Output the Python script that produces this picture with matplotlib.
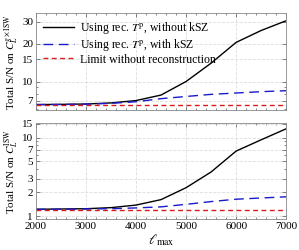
import numpy as np
import matplotlib
matplotlib.use('Agg')
import matplotlib.pyplot as plt
from matplotlib.ticker import FixedLocator, MultipleLocator, NullFormatter, LogLocator

plt.rcParams['font.family'] = 'Liberation Serif'
plt.rcParams['mathtext.fontset'] = 'stix'
plt.rcParams['font.size'] = 8

# Data
lmax = [2000, 2500, 3000, 3500, 4000, 4500, 5000, 5500, 6000, 6500, 7000]

# top panel: S/N on C_L^{g x ISW}
gx_no_ksz = [6.55, 6.58, 6.62, 6.75, 7.05, 7.8, 10.0, 14.0, 20.5, 25.5, 30.5]
gx_ksz = [6.55, 6.56, 6.6, 6.7, 6.9, 7.3, 7.6, 7.9, 8.1, 8.3, 8.45]
gx_limit = [6.5] * len(lmax)

# bottom panel: S/N on C_L^{ISW}
isw_no_ksz = [1.22, 1.23, 1.24, 1.28, 1.38, 1.62, 2.3, 3.65, 6.75, 9.4, 13.0]
isw_ksz = [1.22, 1.22, 1.23, 1.24, 1.27, 1.31, 1.41, 1.53, 1.64, 1.7, 1.76]
isw_limit = [1.2] * len(lmax)

labels = [r'Using rec. $T^{\rm p}$, without kSZ',
          r'Using rec. $T^{\rm p}$, with kSZ',
          'Limit without reconstruction']

fig = plt.figure(figsize=(2.99, 2.5), dpi=100)
ax1 = fig.add_axes([0.12, 0.56, 0.837, 0.387])
ax2 = fig.add_axes([0.12, 0.123, 0.837, 0.384])


def style(ax, yticks):
    ax.set_yscale('log')
    ax.set_xlim(2000, 7000)
    ax.xaxis.set_major_locator(MultipleLocator(1000))
    ax.xaxis.set_minor_locator(MultipleLocator(200))
    ax.yaxis.set_major_locator(FixedLocator(yticks))
    ax.yaxis.set_major_formatter(matplotlib.ticker.FixedFormatter([str(t) for t in yticks]))
    ax.yaxis.set_minor_locator(LogLocator(subs=np.arange(1, 10)))
    ax.yaxis.set_minor_formatter(NullFormatter())
    ax.tick_params(which='both', direction='in', top=True, right=True, width=0.5, color='#555555')
    ax.tick_params(which='major', length=3, labelsize=8, pad=2)
    ax.tick_params(which='minor', length=1.5)
    ax.grid(True, which='major', ls='--', lw=0.6, color='#dddddd')
    for s in ax.spines.values():
        s.set_color('#888888')
        s.set_linewidth(0.6)


ax1.plot(lmax, gx_no_ksz, color='black', lw=1.0, label=labels[0])
ax1.plot(lmax, gx_ksz, color='#1a1acc', lw=1.0, dashes=(7, 4), label=labels[1])
ax1.plot(lmax, gx_limit, color='#dd1a1a', lw=1.0, dashes=(3.5, 2.5), label=labels[2])
style(ax1, [7, 10, 15, 20, 30])
ax1.set_ylim(5.93, 35)
ax1.set_xticklabels([])
ax1.set_ylabel(r'Total S/N on $C_L^{g\times{\rm ISW}}$', labelpad=1)
ax1.legend(loc='upper left', frameon=False, handlelength=2.6, borderaxespad=0.2,
           labelspacing=0.05, handletextpad=0.5, fontsize=8.5)

ax2.plot(lmax, isw_no_ksz, color='black', lw=1.0)
ax2.plot(lmax, isw_ksz, color='#1a1acc', lw=1.0, dashes=(7, 4))
ax2.plot(lmax, isw_limit, color='#dd1a1a', lw=1.0, dashes=(3.5, 2.5))
style(ax2, [1, 2, 3, 5, 7, 10, 15])
ax2.set_ylim(0.91, 15.3)
ax2.set_ylabel(r'Total S/N on $C_L^{\rm ISW}$', labelpad=1)
ax2.set_xlabel(r'$\ell_{\rm max}$', fontsize=10, labelpad=1)

fig.savefig('out.png', dpi=100)
